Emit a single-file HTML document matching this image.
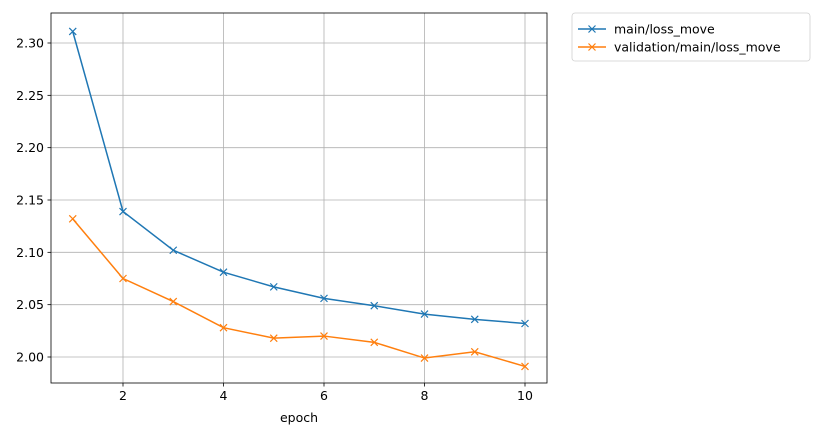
<!DOCTYPE html>
<html><head><meta charset="utf-8"><style>
body{margin:0;background:#fff;font-family:"Liberation Sans","DejaVu Sans",sans-serif;}
svg text{font-family:"DejaVu Sans","Liberation Sans",sans-serif;font-size:12.5px;fill:#000;}
</style></head><body>
<svg id="chart" width="816" height="436"></svg>
<script>
const epochs=[1,2,3,4,5,6,7,8,9,10];
const trainLoss=[2.311,2.139,2.102,2.081,2.067,2.056,2.049,2.041,2.036,2.032];
const valLoss=[2.132,2.075,2.053,2.028,2.018,2.020,2.014,1.999,2.005,1.991];
const xTicks=[2,4,6,8,10];
const yTicks=[2.00,2.05,2.10,2.15,2.20,2.25,2.30];
const L=51,R=547,T=13,B=383;
const xs=v=>72.75+(v-1)*50.25;
const ys=v=>357-(v-2.0)/0.30*314;
const svg=document.getElementById('chart');
const NS='http://www.w3.org/2000/svg';
function mk(t,a,p){const e=document.createElementNS(NS,t);for(const k in a)e.setAttribute(k,a[k]);(p||svg).appendChild(e);return e;}
const grid=mk('g',{});


xTicks.forEach(v=>{mk('line',{x1:xs(v),x2:xs(v),y1:T,y2:B,stroke:'#b0b0b0','stroke-width':0.8},grid);
mk('line',{x1:xs(v),x2:xs(v),y1:B,y2:B+3.5,stroke:'#000','stroke-width':0.8});
const t=mk('text',{x:xs(v),y:B+17,'text-anchor':'middle'});t.textContent=v;

});
yTicks.forEach(v=>{mk('line',{x1:L,x2:R,y1:ys(v),y2:ys(v),stroke:'#b0b0b0','stroke-width':0.8},grid);
mk('line',{x1:L-3.5,x2:L,y1:ys(v),y2:ys(v),stroke:'#000','stroke-width':0.8});
const t=mk('text',{x:L-7,y:ys(v)+4.5,'text-anchor':'end'});t.textContent=v.toFixed(2);

});
function series(data,color,name){
const g=mk('g',{});


mk('polyline',{points:data.map((v,i)=>xs(epochs[i])+','+ys(v)).join(' '),fill:'none',stroke:color,'stroke-width':1.5},g);
data.forEach((v,i)=>{const x=xs(epochs[i]),y=ys(v);
mk('path',{d:`M${x-3.5},${y-3.5}L${x+3.5},${y+3.5}M${x-3.5},${y+3.5}L${x+3.5},${y-3.5}`,stroke:color,'stroke-width':1.2},g);});
}
series(trainLoss,'#1f77b4','train-loss-line');
series(valLoss,'#ff7f0e','validation-loss-line');
const frame=mk('rect',{x:L,y:T,width:R-L,height:B-T,fill:'none',stroke:'#000','stroke-width':0.8});


const xl=mk('text',{x:299,y:422,'text-anchor':'middle'});xl.textContent='epoch';


const lg=mk('g',{});


mk('rect',{x:572,y:13,width:238,height:48,rx:3,fill:'#fff',stroke:'#d0d0d0','stroke-width':0.8},lg);
[['main/loss_move','#1f77b4',29],['validation/main/loss_move','#ff7f0e',47]].forEach(([n,c,y])=>{
const e=mk('g',{},lg);


mk('line',{x1:578,x2:606,y1:y,y2:y,stroke:c,'stroke-width':1.5},e);
mk('path',{d:`M588.5,${y-3.5}L595.5,${y+3.5}M588.5,${y+3.5}L595.5,${y-3.5}`,stroke:c,'stroke-width':1.2},e);
const t=mk('text',{x:614,y:y+4.5},e);t.textContent=n;});
</script>
</body></html>
